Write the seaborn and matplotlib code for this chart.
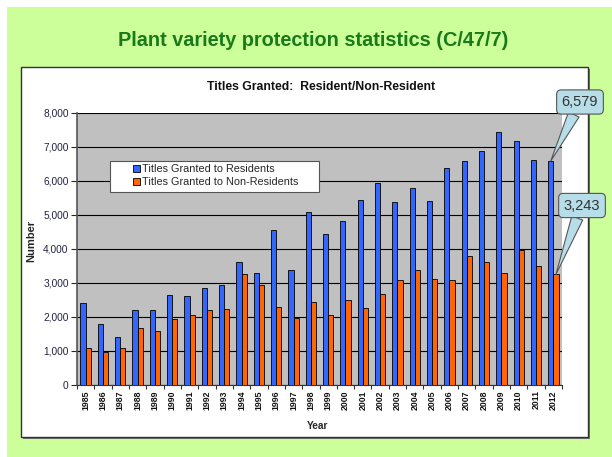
import pandas as pd
import seaborn as sns
import matplotlib.pyplot as plt
from matplotlib.patches import Rectangle
from matplotlib.ticker import FuncFormatter, FixedLocator

# Data
years = [str(y) for y in range(1985, 2013)]
residents = [2410, 1775, 1410, 2195, 2195, 2640, 2600, 2850, 2920, 3600,
             3300, 4540, 3360, 5070, 4430, 4800, 5440, 5930, 5370, 5780,
             5400, 6380, 6580, 6860, 7430, 7180, 6600, 6579]
non_residents = [1080, 970, 1080, 1670, 1590, 1940, 2050, 2195, 2235, 3270,
                 2940, 2300, 1970, 2420, 2040, 2490, 2265, 2670, 3080, 3360,
                 3110, 3070, 3790, 3620, 3300, 3950, 3480, 3243]
series_names = ['Titles Granted to Residents', 'Titles Granted to Non-Residents']

df = pd.DataFrame({
    'Year': years * 2,
    'Number': residents + non_residents,
    'Series': [series_names[0]] * len(years) + [series_names[1]] * len(years),
})

sns.set_style('white')
plt.rcParams['font.family'] = ['Liberation Sans', 'DejaVu Sans']

fig = plt.figure(figsize=(6.12, 4.57), dpi=100)
fig.patch.set_facecolor('white')

# green slide background and white chart box
fig.patches.append(Rectangle((7 / 612, 0), 605 / 612, 450 / 457, transform=fig.transFigure,
                             facecolor='#ccff99', edgecolor='none', zorder=-3))
fig.patches.append(Rectangle((23 / 612, 0.0438 - 2 / 457), 567 / 612, 370 / 457,
                             transform=fig.transFigure, facecolor='#707070',
                             edgecolor='none', zorder=-2))
fig.patches.append(Rectangle((21 / 612, 0.0438), 567 / 612, 370 / 457, transform=fig.transFigure,
                             facecolor='white', edgecolor='#333333', linewidth=1, zorder=-1))

fig.text(0.511, 0.912, 'Plant variety protection statistics (C/47/7)', ha='center', va='center',
         fontsize=14.3, fontweight='bold', color='#1a7a1a')
fig.text(0.525, 0.809, 'Titles Granted:  Resident/Non-Resident', ha='center', va='center',
         fontsize=8.8, fontweight='bold', color='#111111')

ax = fig.add_axes([77 / 612, 1 - 384.7 / 457, 485 / 612, 272 / 457])
ax.set_facecolor('#c0c0c0')

sns.barplot(data=df, x='Year', y='Number', hue='Series', palette=['#3366ff', '#ff6600'],
            saturation=1, width=0.6, edgecolor='black', linewidth=0.6, ax=ax, zorder=3)

ax.set_ylim(0, 8000)
ax.set_xlim(-0.5, len(years) - 0.5)
ax.set_yticks(range(0, 8001, 1000))
ax.yaxis.set_major_formatter(FuncFormatter(lambda v, p: f'{int(v):,}'))
ax.yaxis.grid(True, color='black', linewidth=0.8, zorder=1)
ax.set_axisbelow(True)
for s in ['top', 'right']:
    ax.spines[s].set_visible(False)
ax.spines['left'].set_color('#555555')
ax.spines['left'].set_linewidth(1.2)
ax.spines['bottom'].set_color('#333333')

ax.tick_params(axis='y', labelsize=7.3, length=4, width=0.8, direction='out', left=True,
               labelcolor='#222244', pad=2)
ax.tick_params(axis='x', which='major', labelsize=6.3, length=0, labelrotation=90, pad=4,
               labelcolor='#111111')
for lbl in ax.get_xticklabels():
    lbl.set_fontweight('bold')
ax.xaxis.set_minor_locator(FixedLocator([i + 0.5 for i in range(-1, len(years))]))
ax.tick_params(axis='x', which='minor', length=3, width=0.8, bottom=True, color='#333333')

ax.set_xlabel('Year', fontsize=7.3, fontweight='bold')
ax.set_ylabel('Number', fontsize=8, fontweight='bold')
ax.xaxis.set_label_coords(0.497, -0.132)
ax.yaxis.set_label_coords(-0.085, 0.53)

# legend: white box drawn separately to get the wide padding of the original
ax.add_patch(Rectangle((0.068, 0.7085), 0.431, 0.1135, transform=ax.transAxes,
                       facecolor='white', edgecolor='#555555', linewidth=0.8, zorder=4))
leg = ax.legend(loc='upper left', bbox_to_anchor=(0.112, 0.818), fontsize=7.8, frameon=False,
                handlelength=0.6, handleheight=0.6, handletextpad=0.2, borderpad=0.2,
                labelspacing=0.25, borderaxespad=0)
leg.set_zorder(5)

# callouts for the 2012 values
last = len(years) - 1
callouts = [(last - 0.15, residents[-1], (580, 457 - 102)),
            (last + 0.15, non_residents[-1], (582, 457 - 205.5))]
for xv, yv, pos in callouts:
    ax.annotate(f'{yv:,}', xy=(xv, yv), xytext=pos, textcoords='figure pixels',
                ha='center', va='center', fontsize=10.5, color='#333333',
                annotation_clip=False, zorder=10,
                bbox=dict(boxstyle='round,pad=0.35,rounding_size=0.3', facecolor='#b7dde8',
                          edgecolor='#555555', linewidth=0.8),
                arrowprops=dict(arrowstyle='wedge,tail_width=0.8,shrink_factor=0.5',
                                facecolor='#b7dde8', edgecolor='#555555', linewidth=0.8,
                                shrinkA=0, shrinkB=0))

fig.savefig('out.png', dpi=100)
